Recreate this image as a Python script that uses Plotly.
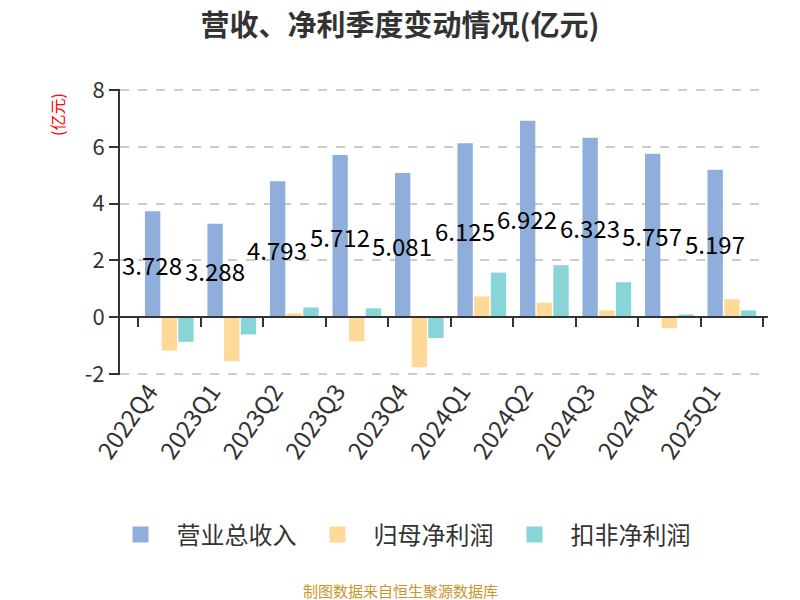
import plotly.graph_objects as go

categories = ["2022Q4", "2023Q1", "2023Q2", "2023Q3", "2023Q4",
              "2024Q1", "2024Q2", "2024Q3", "2024Q4", "2025Q1"]
revenue = [3.728, 3.288, 4.793, 5.712, 5.081, 6.125, 6.922, 6.323, 5.757, 5.197]
net_profit = [-1.18, -1.56, 0.13, -0.85, -1.77, 0.73, 0.51, 0.24, -0.39, 0.63]
deducted_profit = [-0.87, -0.61, 0.34, 0.31, -0.74, 1.57, 1.83, 1.23, 0.09, 0.24]
series_names = ["营业总收入", "归母净利润", "扣非净利润"]
colors = ["#8FAEDC", "#FFD997", "#88D5D8"]
y_ticks = [-2, 0, 2, 4, 6, 8]

FONT = "Noto Sans CJK SC, Noto Sans, sans-serif"

# the page has an 8px body margin; figure coords = page coords - 8
W, H = 792, 592
L, R, T, B = 112, 32, 81, 225
plot_w = W - L - R
plot_h = H - T - B
y_range = [-2.04, 8.04]


def py(page_y):
    """page pixel y -> paper fraction"""
    fig_y = page_y - 8
    return (H - B - fig_y) / plot_h


def px(page_x):
    fig_x = page_x - 8
    return (fig_x - L) / plot_w


fig = go.Figure()
for name, vals, col in zip(series_names, [revenue, net_profit, deducted_profit], colors):
    fig.add_trace(go.Bar(x=categories, y=vals, name=name, marker_color=col,
                         marker_line_width=0, showlegend=False))
    # legend proxy with a larger swatch
    fig.add_trace(go.Scatter(x=[None], y=[None], name=name, mode="markers",
                             marker=dict(symbol="square", size=16, color=col)))

# invisible helper trace so the zero-line x axis (with ticks) renders
fig.add_trace(go.Scatter(x=categories, y=[0] * len(categories), xaxis="x2",
                         mode="markers", marker=dict(opacity=0), showlegend=False,
                         hoverinfo="skip"))

# value labels at middle of revenue bars
slot = plot_w / len(categories) * 0.8 / 3
for c, v in zip(categories, revenue):
    fig.add_annotation(x=c, y=v / 2, text=f"{v:.3f}", showarrow=False,
                       xshift=-slot, font=dict(size=24, color="#000", family=FONT))

fig.add_annotation(xref="paper", yref="paper", x=px(57), y=py(115), text="(亿元)",
                   textangle=-90, showarrow=False, xanchor="center", yanchor="middle",
                   font=dict(size=16, color="red", family=FONT))
fig.add_annotation(xref="paper", yref="paper", x=px(400), y=py(590),
                   text="制图数据来自恒生聚源数据库",
                   showarrow=False, xanchor="center", yanchor="middle",
                   font=dict(size=15, color="#C9952B", family=FONT))

fig.update_layout(
    width=W, height=H,
    paper_bgcolor="white", plot_bgcolor="white",
    margin=dict(l=L, r=R, t=T, b=B, autoexpand=False),
    title=dict(text="<b>营收、净利季度变动情况(亿元)</b>", x=(400 - 8) / W, xref="container",
               y=1 - (26 - 8) / H, yref="container", yanchor="middle", xanchor="center",
               font=dict(size=29, color="#333", family=FONT)),
    barmode="group", bargap=0.2, bargroupgap=0.08,
    font=dict(family=FONT, color="#333"),
    showlegend=True,
    legend=dict(orientation="h", x=(400 - 8) / W, xanchor="center", xref="container",
                y=1 - (535 - 8) / H, yref="container", yanchor="middle",
                font=dict(size=24, color="#333"), itemwidth=62),
    xaxis=dict(type="category", categoryorder="array", categoryarray=categories,
               tickangle=-55, tickfont=dict(size=24, color="#333"),
               ticklabelshift=-20, ticklabelstandoff=-3,
               showline=False, ticks="", showgrid=False, zeroline=False,
               automargin=False),
    xaxis2=dict(type="category", categoryorder="array", categoryarray=categories,
                overlaying="x", anchor="free",
                position=(0 - y_range[0]) / (y_range[1] - y_range[0]), matches="x",
                showline=True, linecolor="#333", linewidth=2,
                ticks="outside", ticklen=9, tickcolor="#333", tickwidth=2,
                tickson="boundaries", showticklabels=False, showgrid=False,
                automargin=False),
    yaxis=dict(range=y_range, tickvals=y_ticks, ticktext=[str(v) for v in y_ticks],
               tickfont=dict(size=22, color="#333"),
               showline=True, linecolor="#333", linewidth=2,
               ticks="outside", ticklen=9, tickcolor="#333", tickwidth=2,
               showgrid=True, gridcolor="#ccc", griddash="dash", gridwidth=1.5,
               zeroline=False, automargin=False),
)

fig.write_html("out.html")
